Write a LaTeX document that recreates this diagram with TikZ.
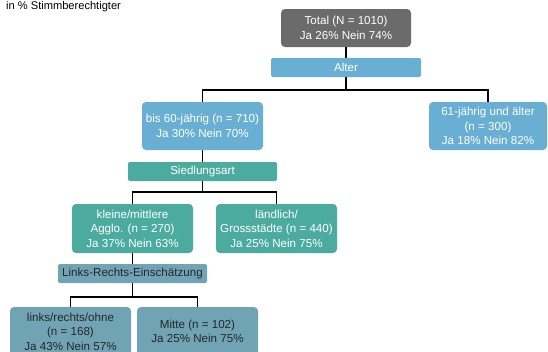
\documentclass[tikz,border=0pt]{standalone}
\usepackage{fontspec}
\setmainfont{Liberation Sans}
\begin{document}
\definecolor{totalgray}{HTML}{6B6B6B}
\definecolor{agebl}{HTML}{69AFD3}
\definecolor{settleteal}{HTML}{4BAB9E}
\definecolor{lrblue}{HTML}{70A4B5}
\begin{tikzpicture}[x=1pt,y=-1pt,
  box/.style={rectangle, rounded corners=4pt, draw=none, align=center,
    inner sep=1pt, font=\fontsize{11.6}{14.5}\selectfont},
  bar/.style={rectangle, rounded corners=2pt, draw=none, align=center,
    inner sep=1pt, minimum height=19pt, font=\fontsize{11.6}{13}\selectfont},
  conn/.style={draw=black, line width=1.7pt},
  wb/.style={minimum width=121pt, minimum height=49pt}]
\useasboundingbox (0,0) rectangle (548,351);
\node[anchor=base west, inner sep=0pt, font=\fontsize{11.1}{12}\selectfont] (title) at (6,9) {in \% Stimmberechtigter};

% nodes of the tree
\node[box, fill=totalgray, text=white, minimum width=130pt, minimum height=38pt] (total) at (346,28) {Total (N = 1010)\\Ja 26\% Nein 74\%};
\node[bar, fill=agebl, text=white, minimum width=150pt] (alter) at (346,67.5) {Alter};
\node[box, wb, fill=agebl, text=white, minimum height=48pt] (young) at (202.5,126) {bis 60-jährig (n = 710)\\Ja 30\% Nein 70\%};
\node[box, fill=agebl, text=white, minimum width=118pt, minimum height=48pt] (old) at (488,126) {61-jährig und älter\\(n = 300)\\Ja 18\% Nein 82\%};
\node[bar, fill=settleteal, text=white, minimum width=149pt] (sied) at (202.5,171.5) {Siedlungsart};
\node[box, wb, fill=settleteal, text=white] (klein) at (132.5,228.5) {kleine/mittlere\\Agglo. (n = 270)\\Ja 37\% Nein 63\%};
\node[box, wb, fill=settleteal, text=white] (land) at (276.5,228.5) {ländlich/\\Grossstädte (n = 440)\\Ja 25\% Nein 75\%};
\node[bar, fill=lrblue, text=black!85, minimum width=149pt] (lr) at (132.5,273.5) {Links-Rechts-Einschätzung};
\node[box, wb, fill=lrblue, text=black!85] (links) at (70.5,331.5) {links/rechts/ohne\\(n = 168)\\Ja 43\% Nein 57\%};
\node[box, wb, fill=lrblue, text=black!85] (mitte) at (197.5,331.5) {Mitte (n = 102)\\Ja 25\% Nein 75\%};

% connectors
\draw[conn] (total.south) -- (alter.north);
\draw[conn] (alter.south) |- ([yshift=12pt]young.north) -- (young.north);
\draw[conn] (alter.south) |- ([yshift=12pt]old.north) -- (old.north);
\draw[conn] (young.south) -- (sied.north);
\draw[conn] (sied.south) |- ([yshift=12pt]klein.north) -- (klein.north);
\draw[conn] (sied.south) |- ([yshift=12pt]land.north) -- (land.north);
\draw[conn] (klein.south) -- (lr.north);
\draw[conn] (lr.south) |- ([yshift=10pt]links.north) -- (links.north);
\draw[conn] (lr.south) |- ([yshift=10pt]mitte.north) -- (mitte.north);
\end{tikzpicture}
\end{document}
